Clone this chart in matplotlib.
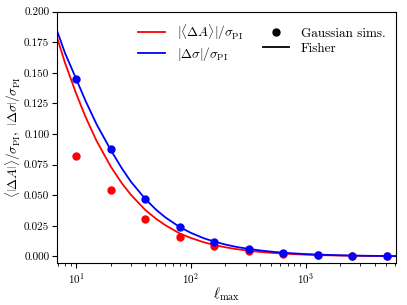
import matplotlib
matplotlib.use('Agg')
import matplotlib.pyplot as plt
from matplotlib.lines import Line2D

plt.rcParams['font.family'] = 'serif'
plt.rcParams['font.serif'] = ['cmr10']
plt.rcParams['mathtext.fontset'] = 'cm'
plt.rcParams['axes.formatter.use_mathtext'] = True

# Gaussian sims
ell_sims = [10, 20, 40, 80, 160, 320, 640, 1280, 2560, 5120]
dA_sims = [0.0822, 0.0544, 0.0308, 0.0161, 0.0083, 0.0042, 0.0021, 0.0010, 0.0005, 0.0002]
dsig_sims = [0.145, 0.0877, 0.0468, 0.0242, 0.0122, 0.0063, 0.0031, 0.0015, 0.0007, 0.0003]

# Fisher curves
ell_fish = [6.8, 8, 10, 12, 15, 20, 25, 30, 40, 50, 60, 80, 100, 130, 160, 200, 250,
            320, 400, 500, 640, 800, 1000, 1280, 1600, 2000, 2560, 3200, 4000, 5120, 6200]
dA_fish = [0.179, 0.158, 0.133, 0.1145, 0.0947, 0.0735, 0.0598, 0.0504, 0.038, 0.0306,
           0.0255, 0.0188, 0.0151, 0.01158, 0.0094, 0.0075, 0.0060, 0.0047, 0.00376,
           0.0030, 0.00235, 0.00188, 0.0015, 0.00118, 0.00094, 0.00075, 0.00059,
           0.00047, 0.00038, 0.0003, 0.00024]
dsig_fish = [0.1845, 0.166, 0.145, 0.1276, 0.1083, 0.087, 0.072, 0.0611, 0.047, 0.038,
             0.0319, 0.024, 0.0193, 0.01484, 0.0122, 0.00976, 0.0078, 0.0062, 0.00496,
             0.00397, 0.0031, 0.00248, 0.00198, 0.00155, 0.00124, 0.00099, 0.00078,
             0.00062, 0.0005, 0.00039, 0.00032]

fig = plt.figure(figsize=(4.07, 3.05), dpi=100)
ax = fig.add_axes([0.140, 0.137, 0.833, 0.825])

ax.plot(ell_fish, dA_fish, color='red', lw=1.3)
ax.plot(ell_fish, dsig_fish, color='blue', lw=1.3)
ax.plot(ell_sims, dA_sims, 'o', color='red', ms=5)
ax.plot(ell_sims, dsig_sims, 'o', color='blue', ms=5)

ax.set_xscale('log')
ax.set_xlim(6.8, 6150)
ax.set_ylim(-0.0055, 0.2)
ax.set_yticks([0.0, 0.025, 0.05, 0.075, 0.1, 0.125, 0.15, 0.175, 0.2])
ax.set_yticklabels(['0.000', '0.025', '0.050', '0.075', '0.100', '0.125', '0.150', '0.175', '0.200'])
ax.tick_params(labelsize=8, pad=2)

ax.set_xlabel(r'$\ell_{\rm max}$', fontsize=10.5, labelpad=0)
ax.set_ylabel(r'$\langle\left|\Delta A\right|\rangle/\sigma_{\rm PI},\ \left|\Delta\sigma\right|/\sigma_{\rm PI}$',
              fontsize=9.5, labelpad=1)

handles = [Line2D([], [], color='red', lw=1.3),
           Line2D([], [], color='blue', lw=1.3),
           Line2D([], [], color='black', marker='o', ls='none', ms=5),
           Line2D([], [], color='black', lw=1.3)]
labels = [r'$|\langle\Delta A\rangle|/\sigma_{\rm PI}$', r'$|\Delta\sigma|/\sigma_{\rm PI}$',
          'Gaussian sims.', 'Fisher']
ax.legend(handles, labels, ncol=2, frameon=False, fontsize=9.5, loc='upper right',
          columnspacing=1.5, handlelength=2.0, handletextpad=0.9,
          borderaxespad=0.4, labelspacing=0.2)

fig.savefig('out.png', dpi=100)
